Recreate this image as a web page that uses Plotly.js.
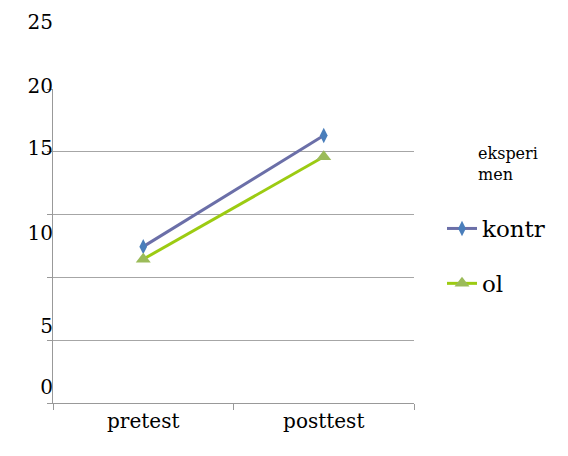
<!DOCTYPE html>
<html>
<head>
<meta charset="utf-8">
<script src="https://cdn.plot.ly/plotly-3.0.1.min.js"></script>
</head>
<body style="margin:0">
<div id="chart"></div>
<script>
// Data
var categories = ["pretest", "posttest"];
var kontrValues = [12.45, 21.3];
var olValues = [11.45, 19.6];
var seriesNames = ["kontr", "ol"];
var legendTitle = "eksperi<br>men";
// Tick labels as they appear (shifted) on the reference
var yTickLabels = ["25", "20", "15", "10", "5", "0"];
var yTickLabelPos = [30.3, 25.2, 20.3, 13.5, 6.1, 1.25];
var gridVals = [0, 5, 10, 15, 20, 25];

var fam = "DejaVu Serif";

var traces = [
  {
    // invisible carrier so the label axis is drawn (drawn first, underneath)
    x: categories, y: kontrValues, yaxis: "y2", type: "scatter", mode: "markers",
    marker: {opacity: 0}, showlegend: false, hoverinfo: "skip"
  },
  {
    x: categories, y: kontrValues, name: seriesNames[0], type: "scatter", mode: "lines+markers",
    line: {color: "#6b6fa8", width: 3},
    marker: {symbol: "diamond-tall", size: 11, color: "#4a7ebb"},
    legendgroup: "a"
  },
  {
    x: categories, y: olValues, name: seriesNames[1], type: "scatter", mode: "lines+markers",
    line: {color: "#9ccb12", width: 3},
    marker: {symbol: "triangle-up", size: 13, color: "#9bbb59"},
    legendgroup: "b"
  }
];

var plotH = 403;
var layout = {
  width: 568, height: 456,
  margin: {l: 53, r: 154, t: 0, b: 53},
  paper_bgcolor: "#fff", plot_bgcolor: "rgba(0,0,0,0)",
  showlegend: true,
  xaxis: {
    type: "category", range: [-0.5, 1.5],
    showline: true, linecolor: "#999", linewidth: 1,
    ticks: "outside", ticklen: 6, tickcolor: "#999", tickson: "boundaries",
    showgrid: false, zeroline: false,
    tickfont: {family: fam, size: 20, color: "#000"}
  },
  yaxis: {
    range: [0, 25], domain: [0, (plotH - 89) / plotH],
    tickvals: gridVals, showticklabels: false,
    showline: true, linecolor: "#999", linewidth: 1,
    ticks: "outside", ticklen: 5, tickcolor: "#999",
    showgrid: true, gridcolor: "#a6a6a6", gridwidth: 1, zeroline: false
  },
  yaxis2: {
    range: [0, (plotH - 10) / 12.56], domain: [0, (plotH - 10) / plotH],
    anchor: "free", position: 0,
    tickvals: yTickLabelPos, ticktext: yTickLabels,
    showgrid: false, showline: false, zeroline: false, ticks: "",
    tickfont: {family: fam, size: 20, color: "#000"}
  },
  legend: {
    x: (442 - 53) / 361, xanchor: "left",
    y: (plotH - 207) / plotH, yanchor: "top",
    font: {family: fam, size: 23, color: "#000"},
    tracegroupgap: 22, traceorder: "grouped",
    bgcolor: "rgba(0,0,0,0)"
  },
  annotations: [
    {
      text: legendTitle, xref: "paper", yref: "paper",
      x: (476 - 53) / 361, xanchor: "left",
      y: (plotH - 142) / plotH, yanchor: "top",
      showarrow: false, align: "left",
      font: {family: fam, size: 16, color: "#000"}
    }
  ]
};

Plotly.newPlot("chart", traces, layout, {displayModeBar: false, staticPlot: true});
</script>
</body>
</html>
